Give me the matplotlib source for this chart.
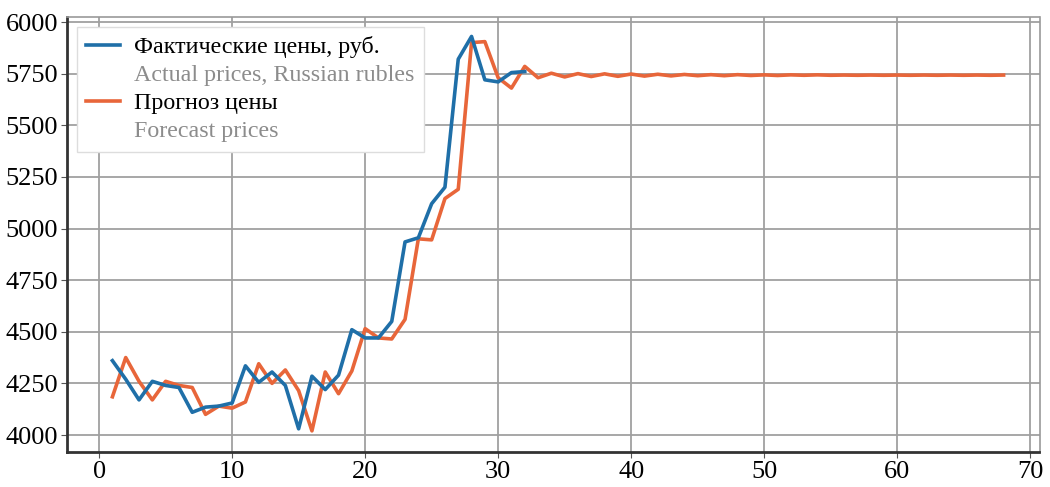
import matplotlib
matplotlib.use("Agg")
from matplotlib import pyplot as plt
from matplotlib.lines import Line2D

plt.rcParams['font.family'] = ['Liberation Serif', 'DejaVu Serif']

# фактические цены (дни 1..32)
days_fact = list(range(1, 33))
fact = [4360, 4270, 4170, 4260, 4240, 4230, 4110, 4135, 4140, 4155,
        4335, 4255, 4305, 4240, 4030, 4285, 4220, 4290, 4510, 4470,
        4470, 4550, 4935, 4955, 5120, 5200, 5820, 5930, 5720, 5710,
        5755, 5760]

# прогноз (дни 1..68)
days_prog = list(range(1, 69))
prog = [4185, 4375, 4260, 4170, 4260, 4240, 4230, 4100, 4140, 4130,
        4160, 4345, 4250, 4315, 4215, 4020, 4305, 4200, 4310, 4515,
        4470, 4465, 4560, 4950, 4945, 5145, 5190, 5900, 5905, 5730,
        5680, 5785, 5730, 5752, 5734, 5750, 5736, 5749, 5737, 5748,
        5738, 5747, 5739, 5746, 5740, 5745, 5740, 5745, 5741, 5744,
        5741, 5744, 5742, 5744, 5742, 5743, 5742, 5743, 5742, 5743,
        5742, 5743, 5742, 5743, 5742, 5743, 5742, 5743]

blue = '#1f6fa8'
orange = '#e8663a'

fig = plt.figure(figsize=(10.5, 4.87), dpi=100)
ax = fig.add_axes([0.064, 0.072, 0.926, 0.893])

ax.plot(days_fact, fact, color=blue, lw=2.6, zorder=3)
ax.plot(days_prog, prog, color=orange, lw=2.6, zorder=2)

ax.set_xlim(-2.4, 70.7)
ax.set_ylim(3918, 6024)
ax.set_xticks(range(0, 71, 10))
ax.set_yticks(range(4000, 6001, 250))
ax.grid(True, color='#a0a0a0', lw=1.3)
ax.set_axisbelow(True)
ax.tick_params(labelsize=19, length=4, pad=2.5, color='#555555')

for s in ['left', 'bottom']:
    ax.spines[s].set_color('#333333')
    ax.spines[s].set_linewidth(2)
for s in ['top', 'right']:
    ax.spines[s].set_color('#999999')
    ax.spines[s].set_linewidth(1.2)

handles = [Line2D([], [], color=blue, lw=2.6),
           Line2D([], [], color='none'),
           Line2D([], [], color=orange, lw=2.6),
           Line2D([], [], color='none')]
labels = ['Фактические цены, руб.', 'Actual prices, Russian rubles',
          'Прогноз цены', 'Forecast prices']
leg = ax.legend(handles, labels, loc='upper left', fontsize=17.3,
                frameon=True, fancybox=False, framealpha=1,
                edgecolor='#dddddd', handlelength=1.4, handletextpad=0.6,
                labelspacing=0.26, borderaxespad=0.4, borderpad=0.4)
for i, t in enumerate(leg.get_texts()):
    t.set_color('black' if i % 2 == 0 else '#8c8c8c')

fig.savefig('out.png', dpi=100)
